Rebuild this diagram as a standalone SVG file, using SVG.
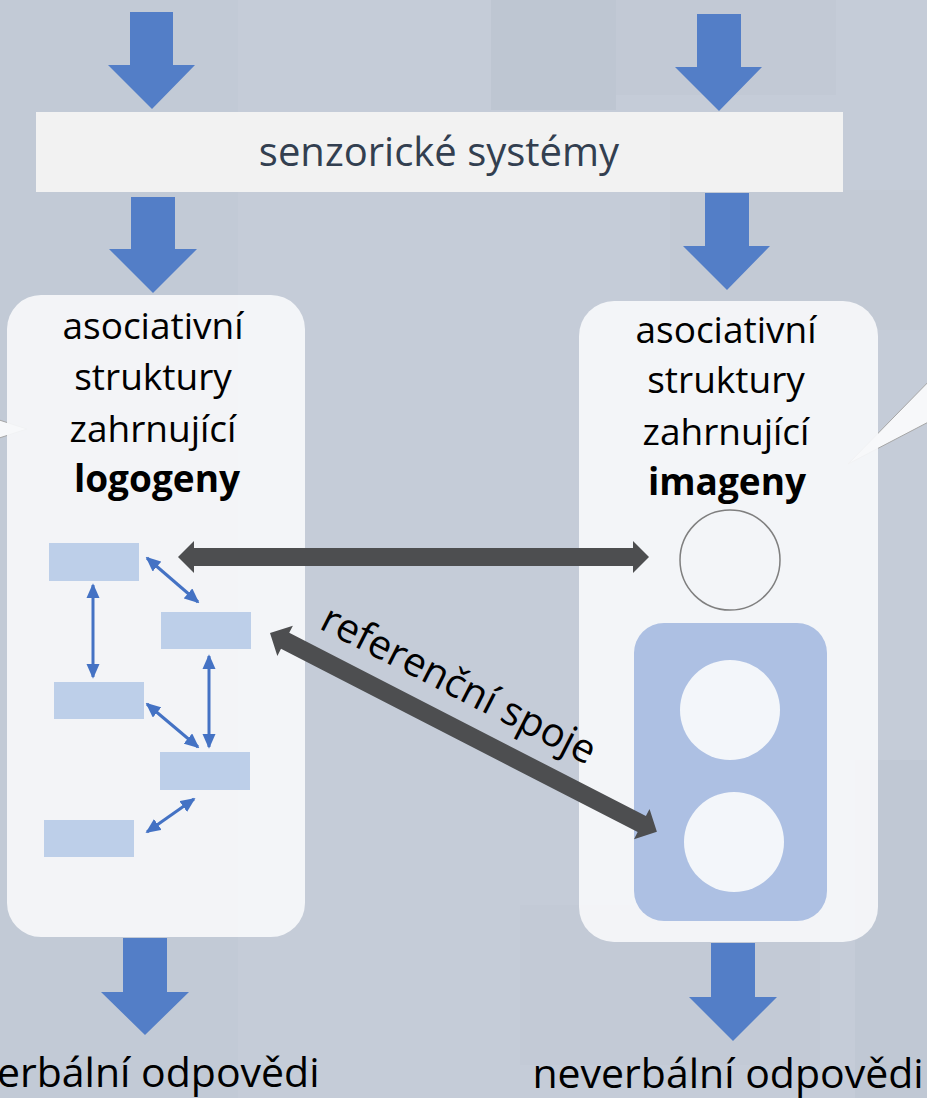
<svg xmlns="http://www.w3.org/2000/svg" width="927" height="1098" viewBox="0 0 927 1098">
<defs>
<style>
.bg{fill:#c5ccd8}
.flow{fill:#537ec7}
.panel{fill:#f6f7fa;fill-opacity:0.93}
.lbl{font-family:"Open Sans","Noto Sans","DejaVu Sans",sans-serif;font-size:37px;fill:#000;text-anchor:middle}
.big{font-family:"Open Sans","Noto Sans","DejaVu Sans",sans-serif;font-size:41px;fill:#000;text-anchor:middle}
.b{font-weight:bold}
.cell{fill:#bdcfe9}
.link{stroke:#4472c4;stroke-width:3;fill:none;marker-start:url(#bh);marker-end:url(#bh)}
.dark{fill:#4d4e50}
.callout{fill:#f7f8fa;stroke:#a6a6a6;stroke-width:1}
</style>
<marker id="bh" viewBox="0 0 5 4.4" refX="4.4" refY="2.2" markerWidth="5" markerHeight="4.4" orient="auto-start-reverse" markerUnits="strokeWidth">
<path d="M0,0 L5,2.2 L0,4.4 Z" fill="#4472c4"/>
</marker>
</defs>

<g id="background">
<rect class="bg" x="0" y="0" width="927" height="1098"/>
<rect x="0" y="0" width="238" height="1098" fill="#c0c7d3" opacity="0.5"/>
<rect x="491" y="0" width="125" height="110" fill="#b8bfcb" opacity="0.5"/>
<rect x="616" y="0" width="220" height="95" fill="#bec5d1" opacity="0.4"/>
<rect x="670" y="190" width="257" height="140" fill="#c0c7d3" opacity="0.4"/>
<rect x="520" y="905" width="300" height="160" fill="#c1c8d4" opacity="0.4"/>
<rect x="855" y="760" width="72" height="338" fill="#bcc3cf" opacity="0.5"/>
</g>

<g id="callouts">
<polygon class="callout" points="-10,417 27,429 -10,441"/>
<polygon class="callout" points="940,370 848,464 940,416"/>
</g>

<g id="flow-arrows">
<polygon class="flow" points="130,12 173,12 173,65 195,65 152,109 108,65 130,65"/>
<polygon class="flow" points="697,14 741,14 741,67 762,67 719,111 675,67 697,67"/>
<polygon class="flow" points="131,197 175,197 175,249 197,249 153,293 109,249 131,249"/>
<polygon class="flow" points="705,193 749,193 749,246 770,246 727,290 683,246 705,246"/>
<polygon class="flow" points="123,938 167,938 167,992 189,992 145,1035 101,992 123,992"/>
<polygon class="flow" points="711,943 755,943 755,997 777,997 733,1041 689,997 711,997"/>
</g>

<g id="senzoricke-systemy">
<rect x="36" y="112" width="807" height="80" fill="#f2f2f2"/>
<text x="439" y="166" class="big" style="font-size:40px;fill:#333f50">senzorické systémy</text>
</g>

<g id="logogeny-box">
<rect class="panel" x="7" y="295" width="298" height="642" rx="34"/>
<text class="lbl" x="153" y="339">asociativní</text>
<text class="lbl" x="153" y="390">struktury</text>
<text class="lbl" x="153" y="442">zahrnující</text>
<text class="lbl b" x="157" y="492">logogeny</text>
</g>

<g id="logogen-cells">
<rect class="cell" x="49" y="543" width="90" height="38"/>
<rect class="cell" x="161" y="612" width="90" height="37"/>
<rect class="cell" x="54" y="682" width="90" height="37"/>
<rect class="cell" x="160" y="752" width="90" height="38"/>
<rect class="cell" x="44" y="820" width="90" height="37"/>
</g>

<g id="imageny-box">
<rect class="panel" x="579" y="301" width="299" height="641" rx="35"/>
<text class="lbl" x="726" y="343">asociativní</text>
<text class="lbl" x="726" y="393">struktury</text>
<text class="lbl" x="726" y="445">zahrnující</text>
<text class="lbl b" x="727" y="495">imageny</text>
<circle cx="730" cy="560" r="50" fill="none" stroke="#7f7f7f" stroke-width="1.5"/>
<rect x="634" y="623" width="193" height="298" rx="30" fill="#adc0e3"/>
<circle cx="730" cy="710" r="50" fill="#f3f6fa"/>
<circle cx="734" cy="842" r="50" fill="#f3f6fa"/>
</g>

<g id="connectors">
<line class="link" x1="147" y1="558" x2="198" y2="602"/>
<line class="link" x1="93" y1="585" x2="93" y2="677"/>
<line class="link" x1="209" y1="656" x2="209" y2="747"/>
<line class="link" x1="147" y1="704" x2="198" y2="747"/>
<line class="link" x1="194" y1="799" x2="147" y2="832"/>
<polygon class="dark" points="178,557 194,541 194,548 633,548 633,541 649,557 633,573 633,566 194,566 194,573"/>
<polygon class="dark" transform="translate(270,633) rotate(27.2)" points="0,0 17,-17 17,-9 418,-9 418,-17 435,0 418,17 418,9 17,9 17,17"/>
<text transform="translate(318,628) rotate(27)" style="font-family:'Open Sans','Noto Sans','DejaVu Sans',sans-serif;font-size:40px;fill:#000">referenční spoje</text>
</g>

<g id="outputs">
<text class="big" x="148" y="1087">verbální odpovědi</text>
<text class="big" x="728" y="1088">neverbální odpovědi</text>
</g>
</svg>
